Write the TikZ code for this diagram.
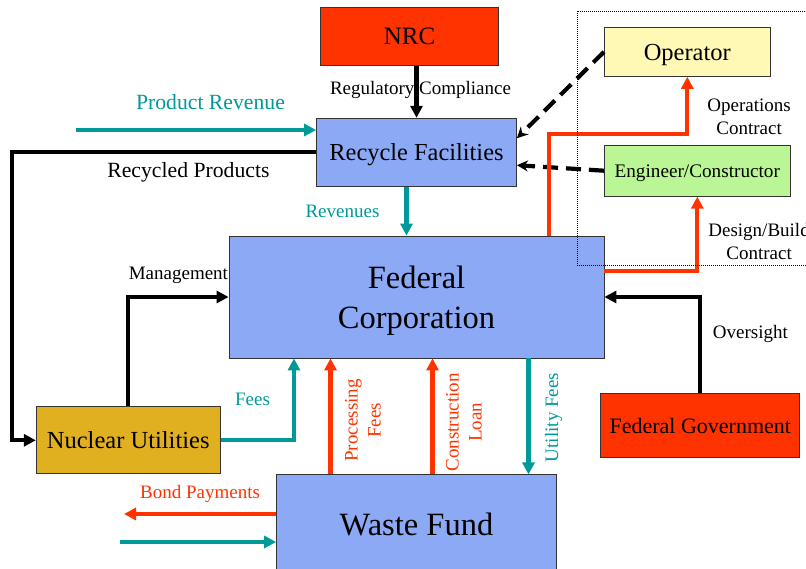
\documentclass[tikz,border=0pt]{standalone}
\usepackage{fontspec}
\setmainfont{Liberation Serif}
\usepackage{tikz}
\usetikzlibrary{arrows.meta,positioning}
\definecolor{FCblue}{RGB}{139,169,245}
\definecolor{FCred}{RGB}{255,51,0}
\definecolor{FCgold}{RGB}{224,176,32}
\definecolor{FCyellow}{RGB}{255,249,181}
\definecolor{FCgreen}{RGB}{186,245,150}
\definecolor{FCteal}{RGB}{0,153,153}

\begin{document}
\begin{tikzpicture}[
      x=1pt,y=1pt,
      box/.style={draw=black!80,line width=0.8pt,inner sep=2pt,text depth=0pt,align=center},
      arr/.style={-{Triangle[length=12pt,width=12pt]},line width=4.2pt},
      dasharr/.style={-{Stealth[length=11pt,width=11pt]},line width=4.2pt,dash pattern=on 15pt off 8pt},
      lbl/.style={font=\fontsize{19}{23}\selectfont,align=center,inner sep=2pt},
      biglbl/.style={font=\fontsize{21.7}{26}\selectfont,inner sep=2pt}
    ]
    \useasboundingbox (0,0) rectangle (806,-568);
    % boxes
    \node[box,fill=FCblue,minimum width=375pt,minimum height=122pt,font=\fontsize{32.5}{40}\selectfont] (fedcorp) at (416.5,-297) {Federal\\Corporation};
    \node[box,fill=FCblue,minimum width=200pt,minimum height=68pt,font=\fontsize{24.4}{29}\selectfont,above=49pt of fedcorp] (recycle) {Recycle Facilities};
    \node[box,fill=FCred,minimum width=178pt,minimum height=58pt,font=\fontsize{25}{30}\selectfont,above=52pt of recycle,xshift=-7pt] (nrc) {NRC};
    \node[box,fill=FCgold,minimum width=184pt,minimum height=67pt,font=\fontsize{24.5}{29}\selectfont,below left=48pt and 8pt of fedcorp] (nucutil) {Nuclear Utilities};
    \node[box,fill=FCblue,minimum width=280pt,minimum height=98pt,font=\fontsize{32.5}{40}\selectfont,below=116pt of fedcorp] (wastefund) {Waste Fund};
    \node[box,fill=FCred,minimum width=199pt,minimum height=64pt,font=\fontsize{22}{26}\selectfont,below right=35pt and -4pt of fedcorp] (fedgov) {Federal Government};
    \node[box,fill=FCyellow,minimum width=166pt,minimum height=49pt,font=\fontsize{24.5}{29}\selectfont,above right=41pt and 87pt of recycle] (operator) {Operator};
    \node[box,fill=FCgreen,minimum width=186pt,minimum height=51pt,font=\fontsize{19.2}{23}\selectfont,right=87pt of recycle,yshift=-18.5pt] (engineer) {Engineer/Constructor};
    % free ends
    \coordinate (prodin) at (76,-130);
    \coordinate (bondout) at (124,-514);
    \coordinate (fundin) at (120,-542);
    % flows
    \draw[arr] (nrc.south -| recycle.north) -- node[lbl,xshift=4pt,yshift=2pt]{Regulatory Compliance} (recycle.north);
    \draw[arr,FCteal] (prodin) -- node[biglbl,pos=0.56,above=16pt]{Product Revenue} (prodin -| recycle.west);
    \draw[arr] (recycle.west) -- node[biglbl,pos=0.42,below=6pt,text=black]{Recycled Products} ++(-304,0) |- (nucutil.west);
    \draw[arr,FCteal] ([xshift=-10]recycle.south) -- node[lbl,left=23pt]{Revenues} ([xshift=-10]recycle.south |- fedcorp.north);
    \draw[arr] (nucutil.north) |- node[lbl,pos=0.75,above=9pt]{Management} (fedcorp.west);
    \draw[arr,FCteal] (nucutil.east) -| node[lbl,pos=0.75,left=20pt]{Fees} ([xshift=-122.5]fedcorp.south);
    \draw[arr,FCred] ([xshift=-86]wastefund.north) -- ([xshift=-86]wastefund.north |- fedcorp.south);
    \node[lbl,text=FCred,rotate=90] (proclbl) at ([xshift=-53.5,yshift=54]wastefund.north) {Processing\\Fees};
    \draw[arr,FCred] ([xshift=16]wastefund.north) -- ([xshift=16]wastefund.north |- fedcorp.south);
    \node[lbl,text=FCred,rotate=90] (loanlbl) at ([xshift=47.5,yshift=52]wastefund.north) {Construction\\Loan};
    \draw[arr,FCteal] ([xshift=112]fedcorp.south) -- ([xshift=112]fedcorp.south |- wastefund.north);
    \node[lbl,text=FCteal,rotate=90] (utillbl) at ([xshift=137,yshift=57]wastefund.north) {Utility Fees};
    \draw[arr,FCred] (bondout -| wastefund.west) -- node[lbl,above=7pt]{Bond Payments} (bondout);
    \draw[arr,FCteal] (fundin) -- (fundin -| wastefund.west);
    \draw[arr] (fedgov.north) |- node[lbl,pos=0.31,right=8.5pt]{Oversight} (fedcorp.east);
    % contractors
    \draw[dasharr] (operator.west) -- ([yshift=14]recycle.east);
    \draw[dasharr] (engineer.west) -- ([yshift=-13]recycle.east);
    \draw[arr,FCred] ([xshift=132.5]fedcorp.north) -- ++(0,102) -| node[lbl,pos=0.65,right=16pt,text=black]{Operations\\Contract} (operator.south);
    \draw[arr,FCred] ([yshift=26]fedcorp.east) -| node[lbl,pos=0.7,right=7pt,text=black]{Design/Build\\Contract} (engineer.south);
    \draw[line width=0.8pt,dash pattern=on 1pt off 1pt] (577,-11) rectangle (830,-265);
  \end{tikzpicture}
\end{document}
